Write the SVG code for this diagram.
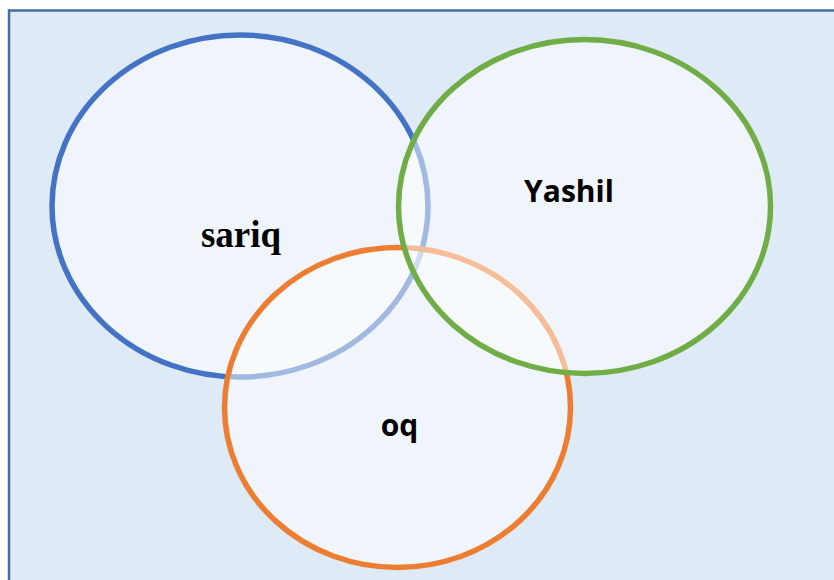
<svg xmlns="http://www.w3.org/2000/svg" width="834" height="580" viewBox="0 0 834 580">
  <style>
    .set { fill: #ffffff; fill-opacity: 0.5; stroke-width: 5.5; }
    .lbl { font-weight: bold; fill: #000000; text-anchor: middle; }
    .serif { font-family: "Liberation Serif", "DejaVu Serif", serif; font-size: 37px; }
    .sans { font-family: "Open Sans", "Liberation Sans", Arial, sans-serif; font-size: 30px; }
  </style>
  <!-- frame -->
  <rect x="9" y="10.5" width="900" height="700" fill="#DEEAF6" stroke="#41719C" stroke-width="2.5"/>
  <g id="sariq">
    <ellipse class="set" cx="240" cy="206" rx="188" ry="171" stroke="#4472C4"/>
    <text class="lbl serif" x="241" y="247">sariq</text>
  </g>
  <g id="oq">
    <ellipse class="set" cx="397.5" cy="407.5" rx="173" ry="160" stroke="#ED7D31"/>
    <text class="lbl sans" x="399.5" y="436">oq</text>
  </g>
  <g id="yashil">
    <ellipse class="set" cx="584.5" cy="206.5" rx="186" ry="167" stroke="#70AD47"/>
    <text class="lbl sans" x="569" y="202">Yashil</text>
  </g>
</svg>
